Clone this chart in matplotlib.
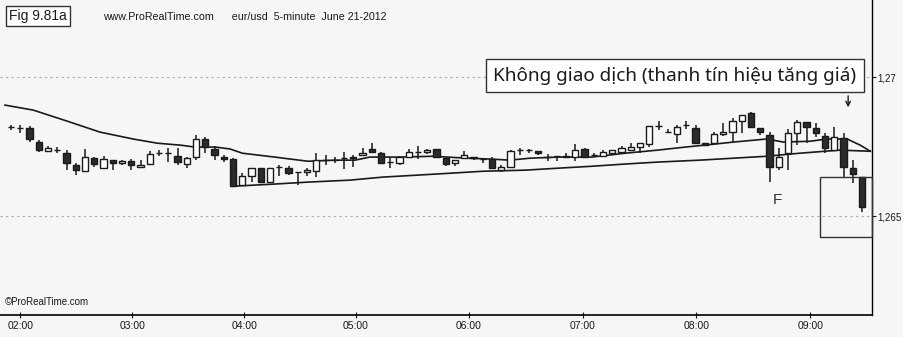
"""eur/usd 5-minute candles, June 21 2012 (Fig 9.81a recreation)."""
import matplotlib
matplotlib.use("Agg")
import matplotlib.pyplot as plt
from matplotlib.patches import Rectangle

# 5-minute bars from 01:55 to 09:35 (open, high, low, close)
opens = [1.26820, 1.26816, 1.26816, 1.26766, 1.26733, 1.26737, 1.26726, 1.26683, 1.26661, 1.26708,
         1.26672, 1.26701, 1.26690, 1.26697, 1.26676, 1.26687, 1.26726, 1.26726, 1.26715, 1.26687,
         1.26712, 1.26777, 1.26741, 1.26712, 1.26705, 1.26611, 1.26643, 1.26672, 1.26622, 1.26676,
         1.26672, 1.26658, 1.26658, 1.26661, 1.26701, 1.26701, 1.26708, 1.26708, 1.26719, 1.26741,
         1.26726, 1.26694, 1.26690, 1.26712, 1.26730, 1.26730, 1.26741, 1.26708, 1.26690, 1.26708,
         1.26712, 1.26705, 1.26705, 1.26665, 1.26676, 1.26737, 1.26737, 1.26733, 1.26712, 1.26715,
         1.26712, 1.26712, 1.26741, 1.26719, 1.26715, 1.26726, 1.26730, 1.26737, 1.26748, 1.26759,
         1.26823, 1.26802, 1.26795, 1.26827, 1.26816, 1.26762, 1.26762, 1.26795, 1.26802, 1.26841,
         1.26870, 1.26816, 1.26791, 1.26676, 1.26726, 1.26798, 1.26838, 1.26816, 1.26787, 1.26737,
         1.26780, 1.26672, 1.26640]
highs = [1.26827, 1.26827, 1.26823, 1.26773, 1.26751, 1.26748, 1.26737, 1.26690, 1.26741, 1.26712,
         1.26715, 1.26701, 1.26701, 1.26705, 1.26701, 1.26733, 1.26737, 1.26744, 1.26744, 1.26712,
         1.26791, 1.26784, 1.26751, 1.26719, 1.26708, 1.26654, 1.26672, 1.26672, 1.26672, 1.26683,
         1.26679, 1.26658, 1.26672, 1.26726, 1.26719, 1.26712, 1.26730, 1.26719, 1.26744, 1.26762,
         1.26730, 1.26712, 1.26715, 1.26741, 1.26751, 1.26741, 1.26741, 1.26708, 1.26701, 1.26733,
         1.26712, 1.26705, 1.26712, 1.26683, 1.26737, 1.26744, 1.26741, 1.26733, 1.26723, 1.26715,
         1.26726, 1.26759, 1.26744, 1.26726, 1.26737, 1.26737, 1.26751, 1.26762, 1.26762, 1.26823,
         1.26841, 1.26813, 1.26827, 1.26841, 1.26827, 1.26762, 1.26802, 1.26834, 1.26852, 1.26863,
         1.26874, 1.26816, 1.26802, 1.26744, 1.26813, 1.26845, 1.26838, 1.26834, 1.26798, 1.26820,
         1.26798, 1.26701, 1.26640]
lows = [1.26809, 1.26798, 1.26766, 1.26730, 1.26733, 1.26726, 1.26665, 1.26647, 1.26661, 1.26676,
        1.26672, 1.26665, 1.26683, 1.26665, 1.26676, 1.26687, 1.26715, 1.26694, 1.26683, 1.26672,
        1.26701, 1.26726, 1.26701, 1.26694, 1.26607, 1.26607, 1.26622, 1.26618, 1.26622, 1.26643,
        1.26647, 1.26611, 1.26643, 1.26640, 1.26683, 1.26690, 1.26669, 1.26676, 1.26719, 1.26730,
        1.26690, 1.26672, 1.26683, 1.26712, 1.26705, 1.26723, 1.26712, 1.26679, 1.26679, 1.26708,
        1.26701, 1.26690, 1.26672, 1.26658, 1.26676, 1.26719, 1.26726, 1.26719, 1.26697, 1.26697,
        1.26712, 1.26697, 1.26712, 1.26712, 1.26715, 1.26726, 1.26730, 1.26737, 1.26726, 1.26748,
        1.26809, 1.26802, 1.26762, 1.26813, 1.26762, 1.26755, 1.26762, 1.26787, 1.26766, 1.26798,
        1.26820, 1.26791, 1.26622, 1.26665, 1.26665, 1.26755, 1.26762, 1.26784, 1.26726, 1.26737,
        1.26640, 1.26618, 1.26514]
closes = [1.26820, 1.26816, 1.26777, 1.26737, 1.26744, 1.26737, 1.26690, 1.26665, 1.26712, 1.26687,
          1.26705, 1.26690, 1.26697, 1.26683, 1.26683, 1.26723, 1.26726, 1.26726, 1.26694, 1.26708,
          1.26777, 1.26748, 1.26719, 1.26705, 1.26607, 1.26643, 1.26672, 1.26622, 1.26672, 1.26676,
          1.26654, 1.26658, 1.26665, 1.26701, 1.26701, 1.26701, 1.26708, 1.26712, 1.26726, 1.26730,
          1.26690, 1.26694, 1.26712, 1.26730, 1.26730, 1.26737, 1.26712, 1.26687, 1.26701, 1.26719,
          1.26708, 1.26705, 1.26672, 1.26676, 1.26733, 1.26737, 1.26737, 1.26726, 1.26712, 1.26715,
          1.26715, 1.26737, 1.26712, 1.26719, 1.26730, 1.26737, 1.26744, 1.26748, 1.26762, 1.26823,
          1.26823, 1.26802, 1.26820, 1.26827, 1.26762, 1.26755, 1.26795, 1.26802, 1.26841, 1.26863,
          1.26820, 1.26802, 1.26676, 1.26712, 1.26798, 1.26838, 1.26820, 1.26798, 1.26744, 1.26784,
          1.26676, 1.26651, 1.26532]

# moving averages (bar index, price)
ma_fast_x = [-0.65, 2.4, 6.1, 9.6, 13.2, 15.8, 18.3, 19.9, 22.1, 23.7, 25.0, 28.5, 32.1, 35.0,
             37.2, 38.8, 42.1, 45.6, 49.3, 51.8, 53.9, 56.1, 59.1, 62.8, 66.4, 69.9, 72.9, 75.0,
             78.1, 81.7, 83.5, 86.4, 88.2, 90.4, 91.8, 92.9]
ma_fast_y = [1.26899, 1.26881, 1.26841, 1.26802, 1.26777, 1.26762, 1.26755, 1.26748, 1.26748,
             1.26741, 1.26726, 1.26712, 1.26697, 1.26701, 1.26701, 1.26712, 1.26712, 1.26715,
             1.26708, 1.26705, 1.26701, 1.26708, 1.26712, 1.26712, 1.26726, 1.26737, 1.26748,
             1.26755, 1.26766, 1.26777, 1.26766, 1.26769, 1.26777, 1.26777, 1.26755, 1.26733]
ma_slow_x = [23.9, 28.5, 32.1, 36.6, 40.2, 43.9, 47.5, 51.0, 55.6, 59.1, 62.8, 66.4, 69.9, 74.5,
             78.1, 81.7, 85.3, 89.6, 92.9]
ma_slow_y = [1.26607, 1.26615, 1.26622, 1.26629, 1.26640, 1.26647, 1.26654, 1.26661, 1.26665,
             1.26672, 1.26679, 1.26687, 1.26694, 1.26701, 1.26708, 1.26715, 1.26726, 1.26737,
             1.26733]

hour_labels = ["02:00", "03:00", "04:00", "05:00", "06:00", "07:00", "08:00", "09:00"]
hour_pos = [1.0, 13.1, 25.2, 37.3, 49.5, 61.8, 74.1, 86.4]
price_ticks = [1.265, 1.27]
price_labels = ["1,265", "1,27"]

BG = "#f6f6f6"
INK = "#1a1a1a"

fig = plt.figure(figsize=(9.04, 3.37), dpi=100, facecolor=BG)
ax = fig.add_axes([0, 22 / 337, 872 / 904, 315 / 337], facecolor=BG)

n = len(opens)
xs = list(range(n))
ax.vlines(xs, lows, highs, color=INK, lw=1.1, zorder=3)
bottoms = [min(o, c) for o, c in zip(opens, closes)]
heights = [abs(c - o) for o, c in zip(opens, closes)]
colors = ["#2b2b2b" if c < o else "white" for o, c in zip(opens, closes)]
ax.bar(xs, heights, bottom=bottoms, width=0.7, color=colors, edgecolor=INK,
       linewidth=1.0, zorder=4)

ax.plot(ma_fast_x, ma_fast_y, color=INK, lw=1.2, zorder=2)
ax.plot(ma_slow_x, ma_slow_y, color=INK, lw=1.2, zorder=2)

for p in price_ticks:
    ax.axhline(p, color="#ababab", lw=0.8, ls=(0, (2, 3)), zorder=1)

ax.set_xlim(-1.19, 93.08)
ax.set_ylim(1.26144, 1.27277)

ax.spines["left"].set_visible(False)
ax.spines["top"].set_visible(False)
ax.spines["right"].set_linewidth(1.0)
ax.spines["bottom"].set_linewidth(1.2)
ax.yaxis.tick_right()
ax.set_yticks(price_ticks)
ax.set_yticklabels(price_labels, family="Liberation Sans")
ax.tick_params(axis="y", direction="out", length=3, labelsize=7, pad=1, colors=INK)
ax.set_xticks(hour_pos)
ax.set_xticklabels(hour_labels, family="Liberation Sans")
ax.tick_params(axis="x", direction="inout", length=4, labelsize=7.5, pad=2, colors=INK)

# annotations
ax.text(0.774, 0.759, "Không giao dịch (thanh tín hiệu tăng giá)", transform=ax.transAxes,
        ha="center", va="center", fontsize=13.6, color=INK,
        family=["Noto Sans", "DejaVu Sans"],
        bbox=dict(boxstyle="square,pad=0.4", fc="white", ec="#333333", lw=1.0), zorder=6)
ax.annotate("", xy=(90.5, 1.26881), xytext=(90.5, 1.26942),
            arrowprops=dict(arrowstyle="->", color=INK, lw=1.0, mutation_scale=8), zorder=6)
ax.add_patch(Rectangle((87.5, 1.26424), 93.08 - 87.5, 1.26640 - 1.26424, fill=False,
                       ec="#333333", lw=1.0, clip_on=False, zorder=5))
ax.text(82.8, 1.26558, "F", ha="center", va="center", fontsize=11, color="#333333",
        family="Liberation Sans")

fig.text(9 / 904, 1 - 16 / 337, "Fig 9.81a", ha="left", va="center", fontsize=10,
         family="Liberation Sans", color=INK,
         bbox=dict(boxstyle="square,pad=0.25", fc="white", ec="#333333", lw=1.0))
fig.text(103 / 904, 1 - 17 / 337,
         "www.ProRealTime.com      eur/usd  5-minute  June 21-2012",
         ha="left", va="center", fontsize=7.7, family="Liberation Sans", color=INK)
ax.text(0.006, 0.025, "©ProRealTime.com", transform=ax.transAxes, ha="left", va="bottom",
        fontsize=7, family="Liberation Sans", color=INK)

fig.savefig("out.png", dpi=100, facecolor=BG)
